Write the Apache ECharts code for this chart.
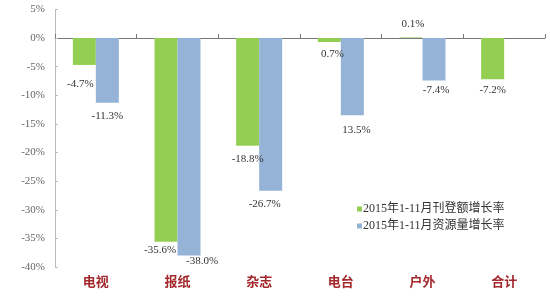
<!DOCTYPE html>
<html><head><meta charset="utf-8">
<script src="https://cdn.jsdelivr.net/npm/echarts@6/dist/echarts.min.js"></script>
<style>html,body{margin:0;padding:0;background:#fff}#c{width:550px;height:296px}</style>
</head><body><div id="c"></div>
<script>
const categories = ['电视','报纸','杂志','电台','户外','合计'];
const seriesNames = ['2015年1-11月刊登额增长率','2015年1-11月资源量增长率'];
const adValues = [-4.7, -35.6, -18.8, -0.7, 0.1, -7.2];
const resValues = [-11.3, -38.0, -26.7, -13.5, -7.4, null];
const adLabels = ['-4.7%','-35.6%','-18.8%','0.7%','0.1%','-7.2%'];
const resLabels = ['-11.3%','-38.0%','-26.7%','13.5%','-7.4%',''];
const yTicks = {min:-40, max:5, interval:5};

// label offsets (style only)
const adOffsets = [[-4,6],[-6,-5],[0,0],[3,-1],[2,0],[0,-3]];
const resOffsets = [[0,0],[13,-8],[-6,0],[4,1],[2,-4],[0,0]];

const numFont = '"Liberation Serif","DejaVu Serif","Noto Sans CJK SC",serif';
function mk(vals, labels, offs){
  return vals.map((v,i)=>({value:v, label:{formatter:labels[i], offset:offs[i]}}));
}
const chart = echarts.init(document.getElementById('c'), null, {renderer:'canvas'});
chart.setOption({
  animation:false,
  grid:{left:55, right:5, top:9.4, bottom:29, containLabel:false},
  legend:{
    orient:'vertical', left:352, top:198, itemWidth:5, itemHeight:5, itemGap:5, icon:'rect',
    textStyle:{fontFamily:numFont, fontSize:12, color:'#333', padding:[0,0,0,-4]},
    data:seriesNames
  },
  xAxis:[{
    type:'category', data:categories, position:'bottom',
    axisLine:{onZero:true, lineStyle:{color:'#777', width:1}},
    axisTick:{show:true, inside:true, length:4, lineStyle:{color:'#777'}},
    axisLabel:{show:false}
  },{
    type:'category', data:categories, position:'bottom', gridIndex:0,
    axisLine:{show:false, onZero:false}, axisTick:{show:false},
    axisLabel:{margin:8, color:'#a3282c', fontWeight:'bold', fontSize:13, fontFamily:'"Noto Sans CJK SC",sans-serif'}
  }],
  yAxis:{
    type:'value', min:yTicks.min, max:yTicks.max, interval:yTicks.interval,
    axisLine:{show:true, lineStyle:{color:'#bbb'}},
    axisTick:{show:true, inside:true, length:3, lineStyle:{color:'#bbb'}},
    splitLine:{show:false},
    axisLabel:{formatter:v=>v+'%', color:'#666', fontSize:11, fontFamily:numFont, margin:10}
  },
  series:[{
    name:seriesNames[0], type:'bar', xAxisIndex:0, barWidth:23, barGap:'0%',
    itemStyle:{color:'#92cf52'},
    label:{show:true, position:'outside', distance:8, color:'#333', fontSize:11, fontFamily:numFont},
    data:mk(adValues, adLabels, adOffsets)
  },{
    name:seriesNames[1], type:'bar', xAxisIndex:0, barWidth:23, barGap:'0%',
    itemStyle:{color:'#95b3d7'},
    label:{show:true, position:'outside', distance:8, color:'#333', fontSize:11, fontFamily:numFont},
    data:mk(resValues, resLabels, resOffsets)
  }]
});
</script></body></html>
